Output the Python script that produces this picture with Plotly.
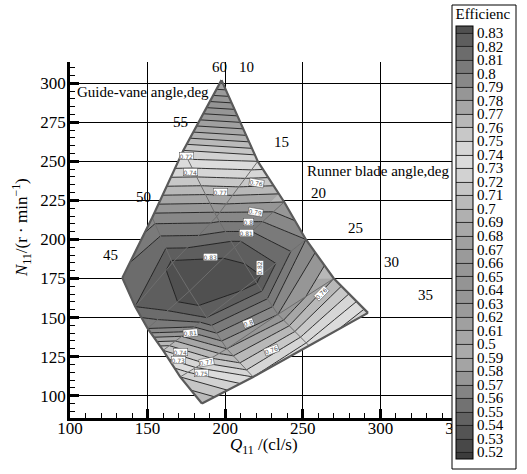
import plotly.graph_objects as go

# ---- carpet parameters (guide-vane angle a, runner blade angle b)
guide_vane = [45, 50, 55, 60]
blade = [10, 15, 20, 25, 30, 35]

# node coordinates, rows = blade angle, cols = guide-vane angle
Q11 = [
    [133.7, 153.0, 173.0, 197.6],
    [142.0, 166.0, 194.5, 221.0],
    [150.0, 177.0, 206.0, 238.0],
    [160.0, 188.0, 219.0, 252.0],
    [171.0, 201.0, 234.0, 270.0],
    [185.0, 218.0, 254.0, 292.0],
]
N11 = [
    [175.4, 214.0, 257.0, 302.0],
    [157.0, 185.0, 214.6, 250.0],
    [143.0, 167.0, 195.0, 224.0],
    [129.0, 150.0, 174.0, 200.0],
    [112.0, 130.0, 152.0, 175.0],
    [95.0, 112.0, 132.0, 153.0],
]
efficiency = [
    [0.815, 0.795, 0.720, 0.605],
    [0.820, 0.832, 0.795, 0.730],
    [0.800, 0.842, 0.826, 0.780],
    [0.750, 0.820, 0.834, 0.800],
    [0.720, 0.780, 0.790, 0.770],
    [0.700, 0.740, 0.735, 0.725],
]

# ---- legend levels and labels
levels = [0.52, 0.53, 0.54, 0.55, 0.56, 0.57, 0.58, 0.59, 0.60, 0.61, 0.62,
          0.63, 0.64, 0.65, 0.66, 0.67, 0.68, 0.69, 0.70, 0.71, 0.72, 0.73,
          0.74, 0.75, 0.76, 0.77, 0.78, 0.79, 0.80, 0.81, 0.82, 0.83]
level_text = ["0.52", "0.53", "0.54", "0.55", "0.56", "0.57", "0.58", "0.59",
              "0.5", "0.61", "0.62", "0.63", "0.64", "0.65", "0.66", "0.67",
              "0.68", "0.69", "0.7", "0.71", "0.72", "0.73", "0.74", "0.75",
              "0.76", "0.77", "0.78", "0.79", "0.8", "0.81", "0.82", "0.83"]
# gray level of each band: below 0.52, 0.52-0.53, ..., above 0.83
band_gray = [60, 72, 84, 98, 114, 132, 150, 164, 170, 166, 160, 154, 150,
             148, 150, 154, 160, 168, 176, 186, 198, 210, 220, 214, 200, 184,
             166, 150, 136, 122, 108, 94, 80]

# ---- angle labels
gv_labels = ["45", "50", "55", "60"]
gv_label_q = [126.0, 147.4, 171.0, 196.1]
gv_label_n = [190.1, 227.4, 275.4, 310.6]
bl_labels = ["10", "15", "20", "25", "30", "35"]
bl_label_q = [214.0, 236.5, 260.1, 283.7, 307.3, 329.0]
bl_label_n = [310.6, 262.6, 229.6, 207.2, 185.8, 164.6]

# ---- inline contour labels
cl_text = ["0.72", "0.74", "0.77", "0.76", "0.79", "0.8", "0.81", "0.83",
           "0.82", "0.81", "0.8", "0.76", "0.74", "0.73", "0.77", "0.75", "0.76"]
cl_q = [175.3, 177.5, 196.8, 220.4, 219.3, 215.0, 214.0, 190.3,
        222.5, 177.5, 215.0, 262.3, 171.0, 170.0, 188.2, 185.0, 230.0]
cl_n = [253.5, 243.4, 230.4, 236.0, 217.4, 211.4, 204.4, 189.0,
        181.6, 140.3, 146.4, 165.6, 128.2, 122.9, 121.8, 114.7, 129.3]
cl_angle = [0, 0, 0, 10, 10, 0, 0, 0, -90, -5, -20, -45, 0, 0, -10, 0, -20]

SERIF = "Liberation Serif"

# figure geometry (pixels)
W, H = 527, 474
ML, MR, MT, MB = 70, 69, 62, 56
PW, PH = W - ML - MR, H - MT - MB
# legend frame (pixels) and bar extent
BOX_L, BOX_R, BOX_T, BOX_B = 452, 516, 5, 469
BAR_TOP, BAR_BOT = 5, 459


def px_x(p):
    return (p - ML) / PW


def px_y(p):
    return (MT + PH - p) / PH


nb = len(band_gray) - 1
colorscale = [[k / nb, f"rgb({g},{g},{g})"] for k, g in enumerate(band_gray)]

axis_common = dict(
    smoothing=0, showticklabels="none", showgrid=True,
    gridcolor="#6e6e6e", gridwidth=1, minorgridcount=0,
    startline=True, endline=True,
    startlinecolor="#5a5a5a", endlinecolor="#5a5a5a",
    startlinewidth=2.2, endlinewidth=2.2,
)
hidden_axis = dict(axis_common, gridcolor="rgba(0,0,0,0)",
                   startlinecolor="rgba(0,0,0,0)",
                   endlinecolor="rgba(0,0,0,0)")

fig = go.Figure()
fig.add_trace(go.Carpet(
    a=guide_vane, b=blade, x=Q11, y=N11, carpet="mesh",
    aaxis=hidden_axis, baxis=hidden_axis,
))
fig.add_trace(go.Contourcarpet(
    carpet="mesh", a=guide_vane, b=blade, z=efficiency,
    autocontour=False,
    contours=dict(start=levels[0], end=levels[-1], size=0.01,
                  coloring="fill", showlines=True),
    line=dict(color="#1e1e1e", width=0.9, smoothing=0),
    colorscale=colorscale,
    colorbar=dict(
        x=px_x(BOX_L), xanchor="left",
        y=px_y((BAR_TOP + BAR_BOT) / 2), yanchor="middle",
        lenmode="pixels", len=BAR_BOT - BAR_TOP, thickness=17,
        thicknessmode="pixels", xpad=4, ypad=0,
        bgcolor="rgba(0,0,0,0)", borderwidth=0,
        outlinecolor="black", outlinewidth=1,
        title=dict(text="Efficienc", side="top",
                   font=dict(family=SERIF, size=15, color="black")),
        tickmode="array", tickvals=levels, ticktext=level_text, ticks="",
        tickfont=dict(family=SERIF, size=15, color="black"),
    ),
))
fig.add_trace(go.Carpet(
    a=guide_vane, b=blade, x=Q11, y=N11, carpet="meshlines",
    aaxis=axis_common, baxis=axis_common,
))

annotations = []
for t, q, n in zip(gv_labels + bl_labels, gv_label_q + bl_label_q,
                   gv_label_n + bl_label_n):
    annotations.append(dict(x=q, y=n, xref="x", yref="y", text=t,
                            showarrow=False,
                            font=dict(family=SERIF, size=15, color="black")))
annotations.append(dict(x=103.4, y=294.5, xref="x", yref="y", xanchor="left",
                        text="Guide-vane angle,deg", showarrow=False,
                        font=dict(family=SERIF, size=15, color="black")))
annotations.append(dict(x=251.5, y=244.0, xref="x", yref="y", xanchor="left",
                        text="Runner blade angle,deg", showarrow=False,
                        font=dict(family=SERIF, size=15, color="black")))
for t, q, n, ang in zip(cl_text, cl_q, cl_n, cl_angle):
    annotations.append(dict(x=q, y=n, xref="x", yref="y", text=t,
                            showarrow=False, textangle=ang,
                            bgcolor="white", bordercolor="#444",
                            borderwidth=0.5, borderpad=0,
                            font=dict(family="DejaVu Sans", size=6,
                                      color="#555")))
# axis titles
annotations.append(dict(x=0.5, y=px_y(446), xref="paper",
                        yref="paper", xanchor="center", yanchor="middle",
                        text="<i>Q</i><sub>11</sub> /(cl/s)", showarrow=False,
                        font=dict(family=SERIF, size=17, color="black")))
annotations.append(dict(x=px_x(21), y=px_y(228),
                        xref="paper", yref="paper", textangle=-90,
                        xanchor="center", yanchor="middle",
                        text="<i>N</i><sub>11</sub>/(r · min<sup>−1</sup>)",
                        showarrow=False,
                        font=dict(family=SERIF, size=17, color="black")))

# white legend frame covering the right end of the axes
shapes = [dict(type="rect", xref="paper", yref="paper", layer="above",
               x0=px_x(BOX_L), x1=px_x(BOX_R), y0=px_y(BOX_B), y1=px_y(BOX_T),
               fillcolor="white", line=dict(color="black", width=1))]

tick_font = dict(family=SERIF, size=17, color="black")
fig.update_layout(
    width=W, height=H, autosize=False,
    margin=dict(l=ML, r=MR, t=MT, b=MB, autoexpand=False),
    paper_bgcolor="white", plot_bgcolor="white",
    showlegend=False,
    annotations=annotations,
    shapes=shapes,
    xaxis=dict(range=[100, 350], dtick=50, tick0=100, showgrid=True,
               gridcolor="black", gridwidth=1, zeroline=False,
               showline=True, linecolor="black", linewidth=2.5,
               ticks="inside", ticklen=9, tickwidth=3, tickcolor="black",
               ticklabelstandoff=-7,
               minor=dict(ticks="inside", ticklen=5, tickwidth=1.2,
                          dtick=10, tickcolor="black", showgrid=False),
               tickfont=tick_font),
    yaxis=dict(range=[85.7, 313.6], dtick=25, tick0=100, showgrid=True,
               gridcolor="black", gridwidth=1, zeroline=False,
               showline=True, linecolor="black", linewidth=2.5,
               ticks="inside", ticklen=9, tickwidth=3, tickcolor="black",
               ticklabelstandoff=-2,
               minor=dict(ticks="inside", ticklen=5, tickwidth=1.2,
                          dtick=5, tickcolor="black", showgrid=False),
               tickfont=tick_font),
)

fig.write_html("out.html")
